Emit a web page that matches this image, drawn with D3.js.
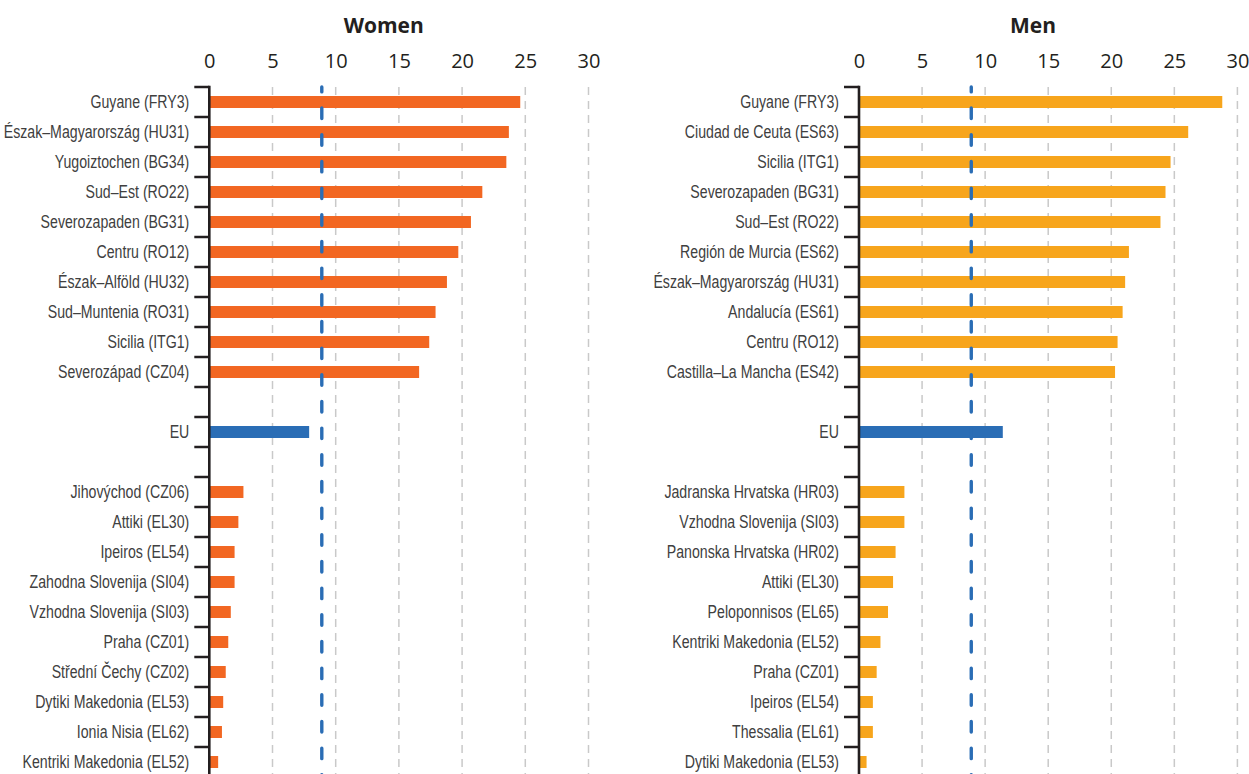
<!DOCTYPE html>
<html>
<head>
<meta charset="utf-8">
<script src="https://cdn.jsdelivr.net/npm/d3@7"></script>
<style>
  html, body { margin: 0; padding: 0; background: #ffffff; }
  svg { display: block; }
  .cat { font-family: "Liberation Sans", Arial, sans-serif; font-size: 18.5px; fill: #404040; }
  .tick-num text { font-family: "Open Sans", "Noto Sans", sans-serif; font-size: 20px; fill: #231f20; }
  .title { font-family: "Open Sans", "Noto Sans", sans-serif; font-size: 21px; font-weight: 700; fill: #231f20; }
</style>
</head>
<body>
<svg id="chart" width="1249" height="774"></svg>
<script>
// Regions with the highest and lowest shares, by sex (%)
const womenTopRegions = [
  "Guyane (FRY3)", "Észak–Magyarország (HU31)", "Yugoiztochen (BG34)", "Sud–Est (RO22)",
  "Severozapaden (BG31)", "Centru (RO12)", "Észak–Alföld (HU32)", "Sud–Muntenia (RO31)",
  "Sicilia (ITG1)", "Severozápad (CZ04)"
];
const womenTopValues = [24.6, 23.7, 23.5, 21.6, 20.7, 19.7, 18.8, 17.9, 17.4, 16.6];

const womenBottomRegions = [
  "Jihovýchod (CZ06)", "Attiki (EL30)", "Ipeiros (EL54)", "Zahodna Slovenija (SI04)",
  "Vzhodna Slovenija (SI03)", "Praha (CZ01)", "Střední Čechy (CZ02)", "Dytiki Makedonia (EL53)",
  "Ionia Nisia (EL62)", "Kentriki Makedonia (EL52)"
];
const womenBottomValues = [2.7, 2.3, 2.0, 2.0, 1.7, 1.5, 1.3, 1.1, 1.0, 0.7];

const menTopRegions = [
  "Guyane (FRY3)", "Ciudad de Ceuta (ES63)", "Sicilia (ITG1)", "Severozapaden (BG31)",
  "Sud–Est (RO22)", "Región de Murcia (ES62)", "Észak–Magyarország (HU31)", "Andalucía (ES61)",
  "Centru (RO12)", "Castilla–La Mancha (ES42)"
];
const menTopValues = [28.8, 26.1, 24.7, 24.3, 23.9, 21.4, 21.1, 20.9, 20.5, 20.3];

const menBottomRegions = [
  "Jadranska Hrvatska (HR03)", "Vzhodna Slovenija (SI03)", "Panonska Hrvatska (HR02)", "Attiki (EL30)",
  "Peloponnisos (EL65)", "Kentriki Makedonia (EL52)", "Praha (CZ01)", "Ipeiros (EL54)",
  "Thessalia (EL61)", "Dytiki Makedonia (EL53)"
];
const menBottomValues = [3.6, 3.6, 2.9, 2.7, 2.3, 1.7, 1.4, 1.1, 1.1, 0.6];

const euLabel = "EU";
const euWomen = 7.9;
const euMen = 11.4;
const referenceValue = 8.9;

const tickValues = [0, 5, 10, 15, 20, 25, 30];
const panelTitles = ["Women", "Men"];

const COLORS = { women: "#f26722", men: "#f7a51c", eu: "#2a6db5", ref: "#2a6db5", axis: "#231f20", grid: "#c9c9c9" };

// horizontal squeeze giving the region names a condensed look
const LABEL_SQUEEZE = 0.765;

const svg = d3.select("#chart");

function buildRows(topNames, topVals, bottomNames, bottomVals, euVal) {
  const rows = [];
  topNames.forEach((n, i) => rows.push({ key: "t" + i, label: n, value: topVals[i], kind: "region" }));
  rows.push({ key: "gapA", label: "", value: null, kind: "gap" });
  rows.push({ key: "eu", label: euLabel, value: euVal, kind: "eu" });
  rows.push({ key: "gapB", label: "", value: null, kind: "gap" });
  bottomNames.forEach((n, i) => rows.push({ key: "b" + i, label: n, value: bottomVals[i], kind: "region" }));
  return rows;
}

const panels = [
  { title: panelTitles[0], rows: buildRows(womenTopRegions, womenTopValues, womenBottomRegions, womenBottomValues, euWomen), color: COLORS.women, x0: 209.3, x1: 588.5 },
  { title: panelTitles[1], rows: buildRows(menTopRegions, menTopValues, menBottomRegions, menBottomValues, euMen), color: COLORS.men, x0: 859, x1: 1237.4 }
];

const bandTop = 87, bandStep = 30, barH = 12;

panels.forEach(p => {
  const g = svg.append("g");
  const x = d3.scaleLinear().domain([0, 30]).range([p.x0, p.x1]);
  const y = d3.scaleBand().domain(p.rows.map(r => r.key))
    .range([bandTop, bandTop + bandStep * p.rows.length]).padding(0);

  const yEnd = y.range()[1];

  // vertical dashed gridlines
  g.append("g").selectAll("line")
    .data(tickValues.filter(v => v > 0))
    .join("line")
    .attr("x1", d => x(d)).attr("x2", d => x(d))
    .attr("y1", bandTop).attr("y2", yEnd)
    .attr("stroke", COLORS.grid)
    .attr("stroke-width", 1.5)
    .attr("stroke-dasharray", "8,6");

  // top value axis (labels only)
  const ax = d3.axisTop(x).tickValues(tickValues).tickSize(0).tickPadding(7).tickFormat(d3.format("d"));
  const axG = g.append("g").attr("class", "tick-num").attr("transform", "translate(0,75)").call(ax);
  axG.select(".domain").remove();

  // title
  g.append("text").attr("class", "title")
    .attr("x", x(13.8)).attr("y", 33)
    .attr("text-anchor", "middle")
    .text(p.title);

  // bars
  const dataRows = p.rows.filter(r => r.value !== null);
  g.append("g").selectAll("rect")
    .data(dataRows)
    .join("rect")
    .attr("x", x(0))
    .attr("y", d => y(d.key) + (y.bandwidth() - barH) / 2)
    .attr("width", d => x(d.value) - x(0))
    .attr("height", barH)
    .attr("fill", d => d.kind === "eu" ? COLORS.eu : p.color);

  // reference line
  g.append("line")
    .attr("x1", x(referenceValue)).attr("x2", x(referenceValue))
    .attr("y1", bandTop).attr("y2", yEnd)
    .attr("stroke", COLORS.ref)
    .attr("stroke-width", 3.4)
    .attr("stroke-linecap", "round")
    .attr("stroke-dasharray", "10.5,16.17")
    .attr("stroke-dashoffset", 5.6);

  // category axis: line plus boundary ticks
  const boundaries = p.rows.map(r => y(r.key)).concat([yEnd]);
  g.append("g").selectAll("line")
    .data(boundaries)
    .join("line")
    .attr("x1", x(0) - 15).attr("x2", x(0))
    .attr("y1", d => d).attr("y2", d => d)
    .attr("stroke", COLORS.axis)
    .attr("stroke-width", 2.5);

  g.append("line")
    .attr("x1", x(0)).attr("x2", x(0))
    .attr("y1", bandTop - 1.25).attr("y2", yEnd)
    .attr("stroke", COLORS.axis)
    .attr("stroke-width", 2.6);

  // category labels
  g.append("g").selectAll("text")
    .data(p.rows.filter(r => r.label))
    .join("text")
    .attr("class", "cat")
    .attr("transform", d => `translate(${x(0) - 20},${y(d.key) + y.bandwidth() / 2}) scale(${LABEL_SQUEEZE},1)`)
    .attr("dy", "0.35em")
    .attr("text-anchor", "end")
    .text(d => d.label);
});
</script>
</body>
</html>
